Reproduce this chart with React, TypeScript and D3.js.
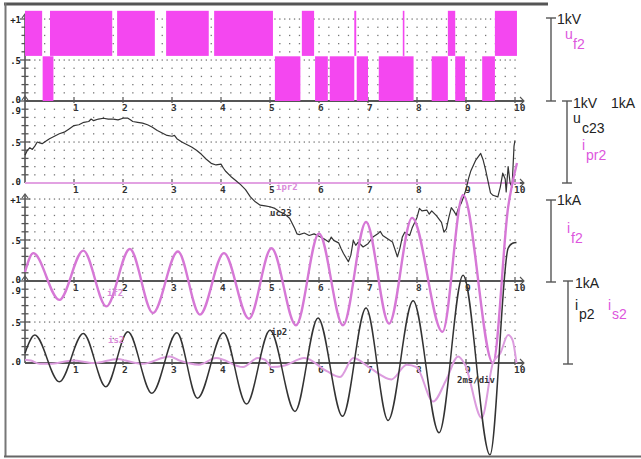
import React from "react";
import * as d3 from "d3";

// ---------- data (time in div, values in units of 1 kV / 1 kA) ----------
const xTickLabels = ["1", "2", "3", "4", "5", "6", "7", "8", "9", "10"];

// u_f2 switching envelope: [t0, t1]
const uf2High: [number, number][] = [
  [0.0, 0.35], [0.51, 1.78], [1.88, 2.65], [2.88, 3.75], [3.86, 5.06],
  [5.65, 5.9], [6.72, 6.76], [7.71, 7.73], [8.63, 8.78], [9.59, 10.04],
];
const uf2Low: [number, number][] = [
  [0.36, 0.58], [5.1, 5.62], [5.92, 6.18], [6.22, 6.72], [6.77, 7.0],
  [7.22, 7.93], [8.3, 8.63], [8.78, 8.98], [9.33, 9.59],
];

const uc23: [number, number][] = [
  [0.0, 0.34], [0.05, 0.4], [0.1, 0.43], [0.15, 0.41], [0.2, 0.45], [0.25, 0.5],
  [0.3, 0.49], [0.35, 0.48], [0.4, 0.5], [0.5, 0.54], [0.6, 0.57], [0.7, 0.6],
  [0.8, 0.62], [0.9, 0.66], [1.0, 0.7], [1.1, 0.71], [1.2, 0.74], [1.3, 0.75],
  [1.35, 0.78], [1.4, 0.76], [1.5, 0.78], [1.6, 0.79], [1.7, 0.78], [1.8, 0.78],
  [1.9, 0.77], [2.0, 0.79], [2.1, 0.79], [2.15, 0.77], [2.2, 0.75], [2.3, 0.74],
  [2.4, 0.73], [2.5, 0.71], [2.6, 0.68], [2.7, 0.64], [2.8, 0.61], [2.9, 0.58],
  [3.0, 0.57], [3.05, 0.58], [3.1, 0.54], [3.2, 0.5], [3.3, 0.47], [3.4, 0.44],
  [3.5, 0.4], [3.6, 0.35], [3.7, 0.29], [3.8, 0.24], [3.9, 0.22], [4.0, 0.23],
  [4.05, 0.18], [4.1, 0.14], [4.2, 0.08], [4.3, 0.03], [4.4, -0.02], [4.5, -0.08],
  [4.6, -0.17], [4.7, -0.23], [4.8, -0.27], [4.9, -0.28], [5.0, -0.29], [5.1, -0.31],
  [5.2, -0.35], [5.3, -0.38], [5.4, -0.43], [5.5, -0.55], [5.55, -0.62], [5.6, -0.63],
  [5.7, -0.61], [5.8, -0.64], [5.9, -0.62], [6.0, -0.65], [6.1, -0.68], [6.2, -0.72],
  [6.25, -0.66], [6.3, -0.7], [6.4, -0.73], [6.45, -0.8], [6.5, -0.86], [6.6, -0.96],
  [6.65, -0.88], [6.7, -0.7], [6.75, -0.76], [6.8, -0.72], [6.9, -0.78], [7.0, -0.74],
  [7.1, -0.66], [7.2, -0.62], [7.25, -0.59], [7.3, -0.64], [7.4, -0.68], [7.5, -0.72],
  [7.6, -0.9], [7.65, -0.8], [7.7, -0.66], [7.75, -0.6], [7.85, -0.64], [7.9, -0.55],
  [8.0, -0.42], [8.05, -0.31], [8.1, -0.34], [8.2, -0.33], [8.25, -0.38], [8.3, -0.34],
  [8.4, -0.4], [8.5, -0.48], [8.55, -0.6], [8.6, -0.56], [8.65, -0.42], [8.7, -0.3],
  [8.75, -0.34], [8.8, -0.39], [8.85, -0.3], [8.9, -0.25], [8.95, -0.17], [9.0, -0.08],
  [9.05, 0.05], [9.1, 0.15], [9.2, 0.28], [9.3, 0.36], [9.35, 0.28], [9.4, 0.16],
  [9.45, 0.02], [9.5, -0.12], [9.55, -0.15], [9.65, -0.17], [9.7, -0.05], [9.75, 0.12],
  [9.8, 0.05], [9.82, -0.11], [9.86, 0.2], [9.9, 0.0], [9.94, -0.05], [9.98, 0.45],
  [10.0, 0.52],
];

const ipr2: [number, number][] = [[0, 0], [10.1, 0]];

const if2: [number, number][] = [
  [0.0, 0.11], [0.17, 0.34], [0.7, -0.23], [1.19, 0.37], [1.66, -0.31], [2.14, 0.39],
  [2.61, -0.39], [3.12, 0.36], [3.57, -0.41], [4.06, 0.34], [4.57, -0.46], [5.03, 0.4],
  [5.53, -0.54], [6.0, 0.58], [6.49, -0.54], [6.96, 0.72], [7.43, -0.52], [7.9, 0.77],
  [8.52, -0.62], [8.94, 1.05], [9.55, -1.0], [9.86, 0.9], [10.04, 1.44],
];

const ip2: [number, number][] = [
  [0.0, 0.12], [0.2, 0.34], [0.7, -0.23], [1.19, 0.36], [1.65, -0.29], [2.1, 0.38],
  [2.59, -0.37], [3.1, 0.37], [3.52, -0.43], [4.05, 0.37], [4.52, -0.5], [5.0, 0.4],
  [5.51, -0.59], [5.98, 0.55], [6.48, -0.65], [6.96, 0.67], [7.41, -0.7], [7.92, 0.76],
  [8.45, -0.85], [8.94, 1.07], [9.49, -1.12], [9.86, 1.4], [9.95, 1.46], [10.03, 1.47],
];

const is2: [number, number][] = [
  [0.0, 0.04], [0.12, 0.03], [0.3, -0.01], [0.5, -0.01], [0.98, 0.03], [1.4, 0.0],
  [1.9, 0.05], [2.05, 0.03], [2.4, -0.01], [2.95, 0.08], [3.15, 0.03], [3.55, -0.02],
  [3.9, 0.06], [4.45, -0.05], [4.75, 0.06], [4.9, 0.04], [5.03, -0.05], [5.3, -0.03],
  [5.7, 0.06], [6.16, -0.1], [6.43, -0.17], [6.7, 0.06], [7.04, -0.06], [7.48, -0.2],
  [7.79, -0.02], [7.99, -0.05], [8.33, -0.47], [8.6, -0.2], [8.84, 0.08], [8.98, -0.02],
  [9.32, -0.67], [9.55, 0.0], [9.7, 0.12], [9.86, 0.34], [9.95, 0.28], [10.03, 0.0],
];

// channel axis labels (value, text)
const ch1Labels: [number, string][] = [[1, "+1"], [0.5, ".5"], [0, ".0"]];
const ch2Labels: [number, string][] = [[0.9, ".9"], [0.5, ".5"], [0, ".0"]];
const ch3Labels: [number, string][] = [[1, "+1"], [0.5, ".5"], [0, ".0"]];
const ch4Labels: [number, string][] = [[0.9, ".9"], [0.5, ".5"], [0, ".0"]];

// ---------- layout ----------
const W = 641, H = 459;
const X0 = 25, X1 = 515;
const UNIT = 82;
const ZEROS = [101, 183, 281, 363];
const TOPS = [1.0, 1.0, 1.0, 1.0];

const x = d3.scaleLinear().domain([0, 10]).range([X0, X1]);
const yCh = (i: number) => d3.scaleLinear().domain([0, 1]).range([ZEROS[i], ZEROS[i] - UNIT]);

const MAG = "#f447f0";
const PINK = "#d678d6";
const PINK2 = "#dc9cde";
const AX = "#555";

function Channel({ i, labels, zeroColor, rows }: { i: number; labels: [number, string][]; zeroColor: string; rows: number[] }) {
  const y = yCh(i);
  const dots: JSX.Element[] = [];
  rows.forEach((v) => {
    const dense = Math.abs(v - 0.5) < 1e-6 || Math.abs(v - 1) < 1e-6;
    const step = dense ? 0.1 : 0.2;
    const n = Math.round(10 / step);
    for (let k = 1; k <= n; k++) {
      const t = k * step;
      dots.push(<rect key={`${v}-${k}`} x={x(t) - 0.6} y={y(v) - 0.6} width={1.3} height={1.3} fill="#777" />);
    }
  });
  const minor: number[] = d3.range(1, Math.round(TOPS[i] * 10) + 1).map((k) => k / 10);
  const y0 = ZEROS[i];
  return (
    <g>
      {dots}
      {/* y axis */}
      <line x1={X0} x2={X0} y1={y0} y2={y(TOPS[i]) - 4} stroke={AX} strokeWidth={1.6} />
      <path d={`M${X0 - 3},${y(TOPS[i]) - 1} L${X0},${y(TOPS[i]) - 5} L${X0 + 3},${y(TOPS[i]) - 1}`} fill="none" stroke={AX} strokeWidth={1.2} />
      {minor.map((v) => {
        const major = Math.abs(v - 0.5) < 1e-6 || Math.abs(v - 1) < 1e-6;
        return <line key={v} x1={X0 - (major ? 5 : 3.5)} x2={X0 + (major ? 5 : 3.5)} y1={y(v)} y2={y(v)} stroke={AX} strokeWidth={1.3} />;
      })}
      {labels.map(([v, s]) => (
        <text key={s} x={21} y={y(v) + (v === 0 ? 2 : v === 0.9 ? 4.5 : 3.5)} textAnchor="end" fontFamily="DejaVu Sans Mono" fontWeight="bold" fontSize={9} fill="#222">{s}</text>
      ))}
      {/* x axis */}
      <line x1={X0} x2={X1 + 9} y1={y0} y2={y0} stroke={zeroColor} strokeWidth={1.8} />
      <path d={`M${X1 + 5},${y0 - 4} L${X1 + 9},${y0} L${X1 + 5},${y0 + 4}`} fill="none" stroke={AX} strokeWidth={1.1} />
      {xTickLabels.map((s, k) => (
        <g key={s}>
          <line x1={x(k + 1)} x2={x(k + 1)} y1={y0 - 4} y2={y0 + 2} stroke={AX} strokeWidth={1.2} />
          <text x={x(k + 1) - 1} y={y0 + 10} fontFamily="DejaVu Sans Mono" fontWeight="bold" fontSize={9.5} fill="#333">{s}</text>
        </g>
      ))}
    </g>
  );
}

function ScaleBar({ bx, top, bottom }: { bx: number; top: number; bottom: number }) {
  return (
    <g stroke="#555" strokeWidth={1.4}>
      <line x1={bx} x2={bx} y1={top} y2={bottom} />
      <line x1={bx - 5} x2={bx + 5} y1={top} y2={top} />
      <line x1={bx - 5} x2={bx + 5} y1={bottom} y2={bottom} />
    </g>
  );
}

export default function App() {
  const lineGen = (i: number) =>
    d3.line<[number, number]>().x((d) => x(d[0])).y((d) => yCh(i)(d[1])).curve(d3.curveMonotoneX);
  const rawLine = (i: number) =>
    d3.line<[number, number]>().x((d) => x(d[0])).y((d) => yCh(i)(d[1]));
  const y1 = yCh(0);
  const rows1 = d3.range(1, 11).map((k) => k / 10);
  const rows2 = d3.range(1, 10).map((k) => k / 10);
  const lab = { fontFamily: "Liberation Sans, Arial, sans-serif", fontSize: 14 } as const;
  return (
    <div style={{ position: "absolute", left: 0, top: 0, width: W, height: H, background: "#fff" }}>
      <svg width={W} height={H} viewBox={`0 0 ${W} ${H}`}>
        <rect x={0} y={0} width={W} height={H} fill="#fff" />
        <Channel i={0} labels={ch1Labels} zeroColor={AX} rows={rows1} />
        <Channel i={1} labels={ch2Labels} zeroColor={AX} rows={rows2} />
        <Channel i={2} labels={ch3Labels} zeroColor={AX} rows={rows1} />
        <Channel i={3} labels={ch4Labels} zeroColor={AX} rows={rows2} />

        {/* u_f2 */}
        {uf2High.map(([a, b], k) => (
          <rect key={`h${k}`} x={x(a)} y={y1(1.1)} width={Math.max(1.6, x(b) - x(a))} height={y1(0.55) - y1(1.1)} fill={MAG} />
        ))}
        {uf2Low.map(([a, b], k) => (
          <rect key={`l${k}`} x={x(a)} y={y1(0.545)} width={Math.max(1.6, x(b) - x(a))} height={y1(0) - y1(0.545)} fill={MAG} />
        ))}

        {/* channel 2 */}
        <path d={rawLine(1)(ipr2) || ""} fill="none" stroke="#e2a2e2" strokeWidth={2.2} />
        <path d={rawLine(1)(uc23) || ""} fill="none" stroke="#333" strokeWidth={1.2} strokeLinejoin="round" />

        {/* channel 3 */}
        <path d={lineGen(2)(if2) || ""} fill="none" stroke={PINK} strokeWidth={2.4} />

        {/* channel 4 */}
        <path d={lineGen(3)(is2) || ""} fill="none" stroke={PINK2} strokeWidth={2} />
        <path d={lineGen(3)(ip2) || ""} fill="none" stroke="#333" strokeWidth={1.5} />

        {/* in-plot labels */}
        <g fontFamily="DejaVu Sans Mono" fontWeight="bold" fontSize={9}>
          <text x={276} y={190} fill="#d98ad9">ipr2</text>
          <text x={270} y={216} fill="#333">uc23</text>
          <text x={107} y={296} fill="#d98ad9">if2</text>
          <text x={108} y={343} fill="#d98ad9">is2</text>
          <text x={271} y={335} fill="#333">ip2</text>
          <text x={457} y={383} fill="#333">2ms/div</text>
        </g>

        {/* frame */}
        <line x1={4} x2={548} y1={4} y2={4} stroke="#555" strokeWidth={3} />
        <line x1={5.5} x2={5.5} y1={3} y2={457} stroke="#777" strokeWidth={2} />
        <line x1={4} x2={641} y1={456.5} y2={456.5} stroke="#666" strokeWidth={2} />

        {/* scale bars */}
        <ScaleBar bx={551} top={18} bottom={101} />
        <ScaleBar bx={567} top={101} bottom={183} />
        <ScaleBar bx={551} top={200} bottom={282} />
        <ScaleBar bx={568} top={281} bottom={364} />

        <g {...lab}>
          <text x={557} y={24} fill="#222">1kV</text>
          <text x={565} y={39} fill="#dd55dd">u</text>
          <text x={573} y={49} fill="#dd55dd">f2</text>

          <text x={573} y={108} fill="#222">1kV</text>
          <text x={611} y={108} fill="#222">1kA</text>
          <text x={573} y={123} fill="#222">u</text>
          <text x={582} y={133} fill="#222">c23</text>
          <text x={582} y={150} fill="#dd55dd">i</text>
          <text x={586} y={160} fill="#dd55dd">pr2</text>

          <text x={557} y={205} fill="#222">1kA</text>
          <text x={567} y={233} fill="#dd55dd">i</text>
          <text x={571} y={243} fill="#dd55dd">f2</text>

          <text x={575} y={288} fill="#222">1kA</text>
          <text x={575} y={310} fill="#222">i</text>
          <text x={579} y={319} fill="#222">p2</text>
          <text x={608} y={310} fill="#dd55dd">i</text>
          <text x={612} y={319} fill="#dd55dd">s2</text>
        </g>
      </svg>
    </div>
  );
}
